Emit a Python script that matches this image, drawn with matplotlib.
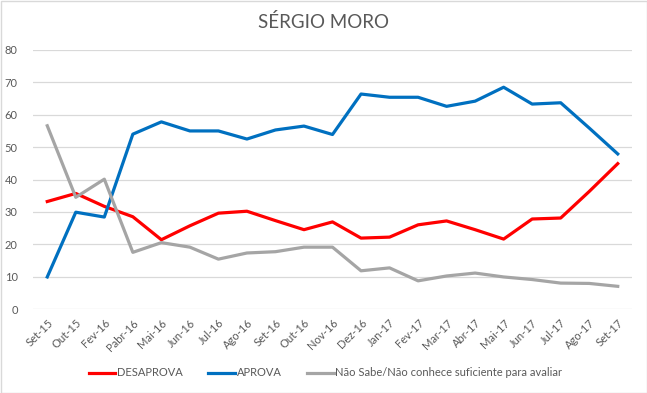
import matplotlib
matplotlib.use("Agg")
import matplotlib.pyplot as plt
from matplotlib.patches import Rectangle

months = ["Set-15", "Out-15", "Fev-16", "Pabr-16", "Mai-16", "Jun-16", "Jul-16", "Ago-16",
          "Set-16", "Out-16", "Nov-16", "Dez-16", "Jan-17", "Fev-17", "Mar-17", "Abr-17",
          "Mai-17", "Jun-17", "Jul-17", "Ago-17", "Set-17"]
desaprova = [33.2, 35.7, 31.7, 28.5, 21.4, 25.7, 29.6, 30.2, 27.3, 24.5, 26.9,
             21.9, 22.2, 26.0, 27.2, 24.5, 21.6, 27.8, 28.1, 36.3, 44.9]
aprova = [9.9, 29.9, 28.4, 54.0, 57.8, 55.0, 55.0, 52.5, 55.3, 56.5, 53.9,
          66.4, 65.4, 65.4, 62.6, 64.2, 68.5, 63.3, 63.7, 55.9, 47.9]
nao_sabe = [56.6, 34.5, 40.1, 17.5, 20.5, 19.1, 15.4, 17.3, 17.7, 19.1, 19.1,
            11.8, 12.7, 8.7, 10.2, 11.1, 9.9, 9.1, 8.0, 7.9, 7.0]
series_names = ["DESAPROVA", "APROVA", "Não Sabe/Não conhece suficiente para avaliar"]
yticks = [0, 10, 20, 30, 40, 50, 60, 70, 80]

plt.rcParams['font.family'] = ['Lato', 'DejaVu Sans']
txt = "#595959"

fig = plt.figure(figsize=(6.47, 3.93), dpi=100)
fig.patches.append(Rectangle((0.5/647, 0.5/393), 1 - 1/647, 1 - 1/393, transform=fig.transFigure,
                             fill=False, edgecolor="#D9D9D9", linewidth=1))
ax = fig.add_axes([33/647, 1 - 309/393, (632 - 33)/647, (309 - 50)/393])

x = list(range(len(months)))
ax.plot(x, desaprova, color="#FF0000", lw=2.3, label=series_names[0], solid_joinstyle="round")
ax.plot(x, aprova, color="#0070C0", lw=2.3, label=series_names[1], solid_joinstyle="round")
ax.plot(x, nao_sabe, color="#A5A5A5", lw=2.3, label=series_names[2], solid_joinstyle="round")

ax.set_xlim(-0.5, len(months) - 0.5)
ax.set_ylim(0, 80)
ax.set_yticks(yticks)
ax.set_yticklabels([str(v) for v in yticks], fontsize=8, color=txt)
ax.set_xticks(x)
ax.set_xticklabels(months, rotation=45, ha="right", va="top", rotation_mode="anchor",
                   fontsize=8, color=txt)
ax.tick_params(axis="both", length=0)
ax.tick_params(axis="y", pad=11)
ax.tick_params(axis="x", pad=6)
ax.grid(axis="y", color="#D9D9D9", lw=0.9)
ax.set_axisbelow(True)
for s in ax.spines.values():
    s.set_visible(False)

fig.text(0.5, 1 - 22/393, "SÉRGIO MORO", ha="center", va="center", fontsize=13.5, color=txt)

leg = fig.legend(loc="center", bbox_to_anchor=(0.503, 1 - 373/393), ncol=3, frameon=False,
                 fontsize=8, handlelength=2.4, handletextpad=0.15, columnspacing=2.3)
for t in leg.get_texts():
    t.set_color(txt)

fig.savefig("out.png", dpi=100)
